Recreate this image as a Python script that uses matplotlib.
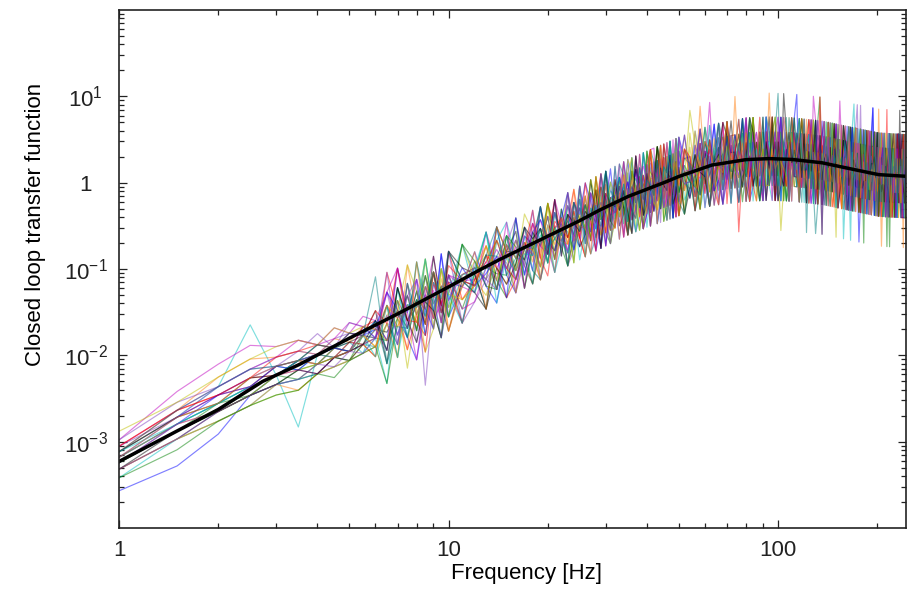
import numpy as np
import matplotlib

matplotlib.use("Agg")
import matplotlib.pyplot as plt
from matplotlib.ticker import LogLocator, NullFormatter

plt.rcParams["font.family"] = ["Liberation Sans", "DejaVu Sans"]

# mean closed loop transfer function (black curve)
MEAN_HZ = [1, 1.5, 2, 2.73, 3.54, 5, 7.1, 10, 12.4, 14.3, 20, 24.9, 28.7,
           35, 45.6, 50, 63, 80, 94, 110, 136, 170, 202, 250]
MEAN_TF = [5.9e-4, 1.33e-3, 2.36e-3, 5.0e-3, 7.9e-3, 0.0158, 0.031, 0.062,
           0.097, 0.129, 0.24, 0.36, 0.48, 0.69, 1.02, 1.18, 1.60, 1.85,
           1.90, 1.86, 1.70, 1.42, 1.24, 1.18]

# where the bundle of single measurements sits relative to the mean (decades)
# and how wide it scatters, vs frequency
SPREAD_HZ = [1, 1.5, 2, 3, 4, 5, 7, 10, 20, 40, 80, 250]
BIAS_DEX = [0.08, 0.12, 0.12, 0.05, -0.05, -0.1, -0.1, -0.05, -0.04, 0.0, 0.0, 0.0]
SPREAD_DEX = [0.20, 0.25, 0.30, 0.33, 0.35, 0.33, 0.30, 0.22, 0.20, 0.21, 0.23, 0.23]

# frequency bins of single measurements: 1-10 Hz /0.5, 11-50 Hz /1, 52-252 Hz /2
BIN_LO = [1.0, 11.0, 52.0]
BIN_HI = [10.0, 50.0, 252.0]
BIN_STEP = [0.5, 1.0, 2.0]

# deviation code per character (in units of local spread); '.' = no data
LEVELS = {"0": -2.1, "1": -1.35, "2": -0.85, "3": -0.48, "4": -0.16,
          "5": 0.16, "6": 0.48, "7": 0.85, "8": 1.35, "9": 2.1,
          "L": -3.6, "H": 3.3, ".": np.nan}

TRACES = [
    "0013455546 4736582914 6392075148 4731826059 3857201946 7024396185 1863594027 5279014836 3401968572 8627350194 2185749603 6934012857 4L16853729 H572136480 2348967015 7150349268",
    "3343344435 4352648371 5920384716 2857394610 7461820395 1538472960 4072815693 6391057284 8264930175 3517628049 H046371528 2785014693 5163829470 7429581036 L683741529 4817263950",
    "5555454546 6374558392 4817263059 3692048175 5280391746 6714925803 2395710468 8L46291537 1572836094 6938501472 3721946850 5084372619 9263518407 4150962738 7836025194 2609473815",
    "5569405553 6283715049 2589436170 8170342695 4396057182 5841730926 3702619854 7926504183 1058372649 4371896025 6892143705 25170389H4 9438261750 5063497281 1729854036 8245710693",
    "7888776767 6857469374 2946175830 5182730964 6903847521 4275619038 5817042396 3648295107 7920318465 2064851H93 4538796012 8196402537 6471835920 1357290846 5092463781 3764018259",
    ".222223334 2546382719 4158297036 6024819375 3691047582 7315268490 9406735128 1872493065 4563L18297 2198706534 8037451962 5649237081 2781506439 6304972815 4927318650 1573084926",
    "2233333434 5463728195 3716805942 7038261594 6124938570 2957460318 6183027459 4590813726 9247536081 1836049275 5L71824396 7348609152 2603957148 8914263570 3275840619 6508193427",
    "6677665656 5746375462 3718462950 6273819405 4826193750 3948261057 72H4061835 5183927460 2847561938 6039482715 1758293046 4962708153 8305172964 3671H4L258 5820497316 2946183057",
    "6566565665 4837261590 7264038519 1957604382 9173526048 3608152974 5481927036 2036478519 8714052369 6259381740 1384907625 4720653918 35H1286407 7068419352 2854036179 9137652084",
    "4444545454 3528473629 5083716924 6419527830 2738164059 8592031746 4026857193 1754392608 638H120547 5207486391 7640912835 3812576409 1495380726 6027184953 8761539204 4392607518",
    "4455555565 6395817264 8207461935 3586970241 5049382716 2463815097 7138490625 4695271830 3827064159 H051736284 6314582790 1782930456 5209476138 3946105827 7460218395 2018367549",
    "3333434444 4718293056 6532904718 4709153862 1825634097 6937408125 3259167840 8503942716 5142870369 2795063184 4067319258 8526794013 3018645297 5792031864 13L5842769 6849273501",
    "5654555454 2961407385 3740158296 7352086941 8406219573 1794053682 6582314907 3719065248 2950731486 7418293650 5893260147 3150478926 6472913085 2685039174 H031746258 4527961803",
    "1222333333 4082937516 5918273640 2849165037 6271938504 4352067891 2960471538 5084736291 7631942085 1946582703 3258079416 68L1325947 4973560812 8136297054 5260481937 3794125608",
    "6666676676 5293846175 4629083751 6185723904 3567482019 9028147635 4715H26380 6247083915 1389456072 5836210749 7402968153 2169354870 8537102694 4691578320 3048215967 5972630481",
    "4433444545 3670591824 7385046192 5923718460 2418903576 5170694832 8294036157 1567392048 4926805731 3081574296 67592413L8 9342607185 1068392574 7413059286 2586740139 6235918047",
    "5545456555 7184629305 2096537481 8361294075 4730586129 3819652704 1407359286 6832517490 54701H8362 2694371805 8013526947 4587019632 7290846513 3619254078 5842160793 1798406325",
    "2222323333 3519472806 6841720395 3295068714 7062841359 6258317049 5936182074 2718054963 H305624718 4172938560 3528640179 1876492350 6043185729 4905276831 2369718540 845L932617",
    "7766667576 4928173650 1357920486 6018453297 5394027186 2745960813 3680419725 7461283509 2809576143 6523049871 4190785326 5732068419 H216403857 1384957260 6917532408 3062814795",
    "3444454545 6143958270 5792481036 4637201958 2981675340 8416390527 6029758143 3195824706 5781369024 1469L53278 7304291685 4615837902 2896051347 5209374816 8534162907 4187290563",
    "4554545545 5862041937 3460917852 7914382506 6857293014 1372580469 4593712086 8650274139 3247916508 6081425793 2947163850 5328406971 4751290638 H063517842 1478236059 7520648391",
    "1122223233 3057284619 7218630594 2085719346 5340862971 6980143725 3718506492 4023691857 1892705463 8735142960 5160937428 3497251086 7625L84319 2914367508 6389501274 4053976182",
    "6655666565 7594318260 4683159207 5372940816 1620457389 3549726108 7061835294 6937410528 4508231697 2153698740 H682074315 1064823579 5307619482 8425960731 3716045298 5289147630",
    "5444455445 2716593840 6905243718 3148062795 7816304952 4027591683 2354968170 5712846039 8163052974 3940781652 1529648307 625843L719 4780195236 2573916084 7941852603 6312074589",
    "3434443444 4895062371 1573608429 6829415073 3495127860 7681243095 5437602918 1649358207 6085917342 7314269508 4026813795 H735160248 2861743590 4170283956 5693427081 1807536924",
    "8777776766 5369701842 3827465091 4506397128 6249850317 2135876904 H806124375 3258790461 1796432085 5082647913 3641509782 8024396157 6395871420 2718054639 4530968271 7164205893",
    "2333343444 6284153097 5041386729 1753648092 8362095174 5974381260 2743056981 6415983027 3907215846 4728063591 8256471930 1398724065 5082319746 6749052318 3206897451 H573148602",
    "4545554445 3751928604 8096254173 7264309581 1583746029 6092514738 4158730692 H370462815 2634198507 5891307426 1465932870 7026581349 3814607925 5432780196 8760129354 2185693047",
    "2233334343 46278L5036 6315729048 2947185630 4705639281 8261407953 3596028147 6049372518 5218694073 2783501649 7L92846315 4367195028 1845032967 6218473590 5097316842 3624958701",
    "5666556565 9172638495 2768150934 5083746291 9470218365 3827695410 6214079583 4782951036 1350864792 89634271L0 2478103659 5601798243 7135946082 4860231597 2093685714 6748319205",
]

TRACE_COLORS = ["b", "g", "r", "c", "m", "y", "k", "#ff7f0e", "#7f3fbf", "#008080"] * 3

Y_TICKS = [1e-3, 1e-2, 1e-1, 1, 10]
Y_TICKLABELS = [r"$\mathregular{10^{-3}}$", r"$\mathregular{10^{-2}}$",
                r"$\mathregular{10^{-1}}$", "1", r"$\mathregular{10^{1}}$"]
X_TICKS = [1, 10, 100]
X_TICKLABELS = ["1", "10", "100"]


freq = np.concatenate([np.arange(lo, hi + step / 2, step)
                       for lo, hi, step in zip(BIN_LO, BIN_HI, BIN_STEP)])
logf = np.log10(freq)
center = 10 ** np.interp(logf, np.log10(MEAN_HZ), np.log10(MEAN_TF))
bias = np.interp(logf, np.log10(SPREAD_HZ), BIAS_DEX)
sigma = np.interp(logf, np.log10(SPREAD_HZ), SPREAD_DEX)

fig = plt.figure(figsize=(9.09, 6.0), dpi=100)
ax = fig.add_axes([0.131, 0.12, 0.866, 0.8633])

for code, color in zip(TRACES, TRACE_COLORS):
    code = code.replace(" ", "")
    assert len(code) == len(freq), (len(code), len(freq))
    dev = np.array([LEVELS[c] for c in code])
    ax.plot(freq, center * 10 ** (bias + sigma * dev), color=color, lw=0.85, alpha=0.5)

ax.plot(MEAN_HZ, MEAN_TF, color="black", lw=2.5)

ax.set_xscale("log")
ax.set_yscale("log")
ax.set_xlim(1, 245)
ax.set_ylim(1e-4, 1e2)

ax.set_xticks(X_TICKS, X_TICKLABELS)
ax.set_yticks(Y_TICKS, Y_TICKLABELS)
ax.xaxis.set_minor_locator(LogLocator(base=10, subs=range(2, 10), numticks=20))
ax.yaxis.set_minor_locator(LogLocator(base=10, subs=range(2, 10), numticks=20))
ax.xaxis.set_minor_formatter(NullFormatter())
ax.yaxis.set_minor_formatter(NullFormatter())
ax.tick_params(which="both", direction="in", top=True, right=True,
               labelsize=16, width=0.9, colors="#222222")
ax.tick_params(which="major", length=6)
ax.tick_params(which="minor", length=3.5)
ax.tick_params(axis="x", pad=9)
ax.tick_params(axis="y", pad=24)
for lbl in ax.get_yticklabels():
    lbl.set_horizontalalignment("center")
for s in ax.spines.values():
    s.set_color("#222222")
    s.set_linewidth(1.2)

ax.set_xlabel("Frequency [Hz]", fontsize=16)
ax.set_ylabel("Closed loop transfer function", fontsize=16)
ax.xaxis.set_label_coords(0.517, -0.068)
ax.yaxis.set_label_coords(-0.093, 0.587)

fig.savefig("out.png", dpi=100, facecolor="white")
